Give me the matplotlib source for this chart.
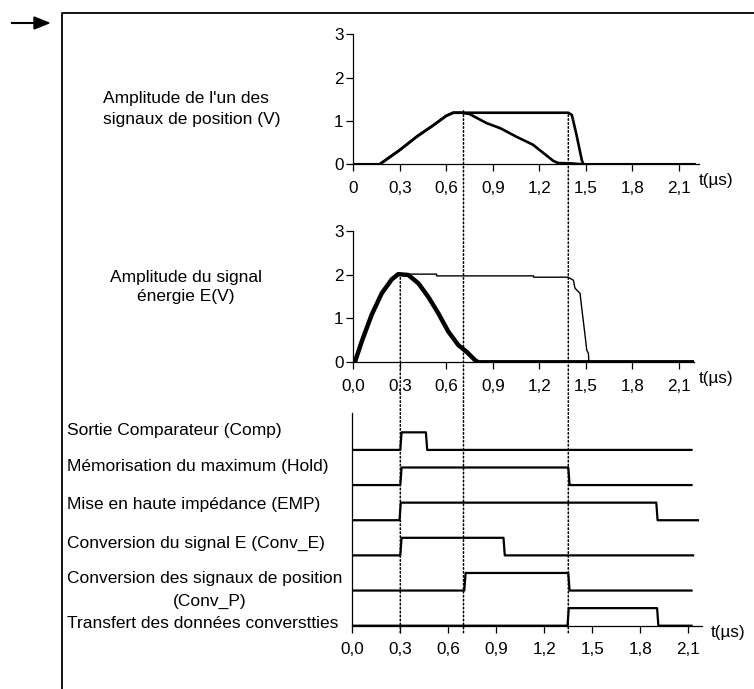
import matplotlib
matplotlib.use('Agg')
import matplotlib.pyplot as plt
import matplotlib.transforms as mtransforms
from matplotlib.patches import ConnectionPatch, Polygon
from matplotlib.lines import Line2D

plt.rcParams['font.family'] = ['Liberation Sans', 'DejaVu Sans']

# --- top panel: one of the position signals (V) and its held copy
pos_t = [0.0, 0.17, 0.30, 0.41, 0.52, 0.60, 0.645, 0.70, 0.75, 0.86, 0.95,
         1.05, 1.16, 1.23, 1.29, 1.32, 1.41, 1.48, 2.2]
pos_v = [0.0, 0.0, 0.33, 0.64, 0.91, 1.12, 1.19, 1.19, 1.16, 0.95, 0.83,
         0.64, 0.45, 0.25, 0.08, 0.03, 0.02, 0.0, 0.0]
pos_hold_t = [0.0, 0.17, 0.30, 0.41, 0.52, 0.60, 0.645, 1.387, 1.41, 1.44,
              1.474, 1.484, 2.2]
pos_hold_v = [0.0, 0.0, 0.33, 0.64, 0.91, 1.12, 1.19, 1.19, 1.14, 0.68,
              0.10, 0.0, 0.0]

# --- middle panel: energy signal E (V) and its held copy
energy_t = [0.0, 0.01, 0.054, 0.118, 0.183, 0.248, 0.29, 0.355, 0.42, 0.484,
            0.548, 0.613, 0.678, 0.731, 0.785, 0.806, 2.2]
energy_v = [0.0, 0.0, 0.47, 1.08, 1.57, 1.89, 2.01, 1.99, 1.80, 1.49,
            1.12, 0.70, 0.39, 0.24, 0.05, 0.0, 0.0]
energy_hold_t = [0.29, 0.537, 0.537, 1.163, 1.163, 1.387, 1.42, 1.43, 1.463,
                 1.474, 1.495, 1.506, 1.517, 1.52, 2.2]
energy_hold_v = [2.01, 2.01, 1.97, 1.97, 1.94, 1.94, 1.87, 1.69, 1.57,
                 1.23, 0.62, 0.28, 0.20, 0.0, 0.0]

# --- bottom panel: logic signals (rise time, fall time, end of trace)
logic_names = ['Sortie Comparateur (Comp)',
               'Mémorisation du maximum (Hold)',
               'Mise en haute impédance (EMP)',
               'Conversion du signal E (Conv_E)',
               'Conversion des signaux de position',
               'Transfert des données converstties']
logic_rise = [0.30, 0.30, 0.295, 0.30, 0.70, 1.345]
logic_fall = [0.46, 1.35, 1.90, 0.945, 1.35, 1.905]
logic_end = [2.12, 2.12, 2.16, 2.13, 2.12, 2.12]

# event markers (dotted verticals): time, panel where they start, level
event_t = [0.30, 0.695, 1.35]
event_panel = ['mid', 'top', 'top']
event_level = [2.03, 1.27, 1.17]

tick_vals = [0.0, 0.3, 0.6, 0.9, 1.2, 1.5, 1.8, 2.1]
top_tick_labels = ['0', '0,3', '0,6', '0,9', '1,2', '1,5', '1,8', '2,1']
tick_labels = ['0,0', '0,3', '0,6', '0,9', '1,2', '1,5', '1,8', '2,1']

W, H = 754, 689
fig = plt.figure(figsize=(W / 100, H / 100), dpi=100)


def px_axes(left, top, width, height):
    return fig.add_axes([left / W, 1 - (top + height) / H, width / W, height / H])


def style(ax):
    for s in ('top', 'right'):
        ax.spines[s].set_visible(False)
    for s in ('left', 'bottom'):
        ax.spines[s].set_linewidth(0.9)
    ax.tick_params(direction='out', length=5, width=0.9, labelsize=12.3)
    ax.tick_params(axis='x', pad=7)
    ax.tick_params(axis='y', pad=2)
    ax.patch.set_alpha(0)


ax_top = px_axes(353.3, 34.3, 2.23 * 155, 130)
ax_top.set_xlim(0, 2.23)
ax_top.set_ylim(0, 3)
style(ax_top)
ax_top.plot(pos_t, pos_v, color='black', lw=1.9)
ax_top.plot(pos_hold_t, pos_hold_v, color='black', lw=1.9)
ax_top.set_xticks(tick_vals, top_tick_labels)
ax_top.set_yticks([0, 1, 2, 3])

ax_mid = px_axes(353.3, 230.7, 2.2 * 155, 131.6)
ax_mid.set_xlim(0, 2.2)
ax_mid.set_ylim(0, 3)
style(ax_mid)
ax_mid.plot(energy_t, energy_v, color='black', lw=3.2)
ax_mid.plot(energy_hold_t, energy_hold_v, color='black', lw=1.0)
ax_mid.set_xticks(tick_vals, tick_labels)
ax_mid.set_yticks([0, 1, 2, 3])

ax_bot = px_axes(352.3, 413, 2.184 * 160, 212.7)
ax_bot.set_xlim(0, 2.184)
ax_bot.set_ylim(0, 6.05)
style(ax_bot)
ax_bot.set_yticks([])
ax_bot.set_xticks(tick_vals, tick_labels)
edge = 0.008
n = len(logic_names)
for i in range(n):
    base = n - 1 - i
    t = [0, logic_rise[i], logic_rise[i] + edge, logic_fall[i],
         logic_fall[i] + edge, logic_end[i]]
    v = [base, base, base + 0.5, base + 0.5, base, base]
    ax_bot.plot(t, v, color='black', lw=1.6)

# dotted event lines across panels
panels = {'top': ax_top, 'mid': ax_mid}
for t, p, lvl in zip(event_t, event_panel, event_level):
    tr = mtransforms.blended_transform_factory(ax_bot.transData, panels[p].transData)
    con = ConnectionPatch(xyA=(t, -0.2), coordsA=ax_bot.transData,
                          xyB=(t, lvl), coordsB=tr,
                          color='black', lw=1.1, linestyle=(0, (1, 1.6)))
    fig.add_artist(con)


def ftext(x, y, s, **kw):
    kw.setdefault('fontsize', 12.5)
    fig.text(x / W, 1 - y / H, s, va='center', **kw)


ftext(103, 109, "Amplitude de l'un des\nsignaux de position (V)", linespacing=1.45)
ftext(186, 287, "Amplitude du signal\nénergie E(V)", ha='center',
      multialignment='center', linespacing=1.3)
label_y = [431, 467, 505, 543, 578, 624]
for name, y in zip(logic_names, label_y):
    ftext(67, y, name)
ftext(210, 601, '(Conv_P)', ha='center')

ftext(699, 181, 't(µs)', fontsize=12.3)
ftext(699, 379, 't(µs)', fontsize=12.3)
ftext(711, 633, 't(µs)', fontsize=12.3)

# frame and arrow
fig.add_artist(Line2D([62 / W, 62 / W, 1.01], [-0.01, 1 - 13 / H, 1 - 13 / H],
                      transform=fig.transFigure, color='black', lw=1.3))
fig.add_artist(Line2D([12 / W, 40 / W], [1 - 23 / H, 1 - 23 / H],
                      transform=fig.transFigure, color='black', lw=1.5))
fig.add_artist(Polygon(
    [(34 / W, 1 - 17 / H), (49 / W, 1 - 23 / H), (34 / W, 1 - 29 / H)],
    closed=True, transform=fig.transFigure, color='black'))

fig.savefig('out.png', dpi=100)
